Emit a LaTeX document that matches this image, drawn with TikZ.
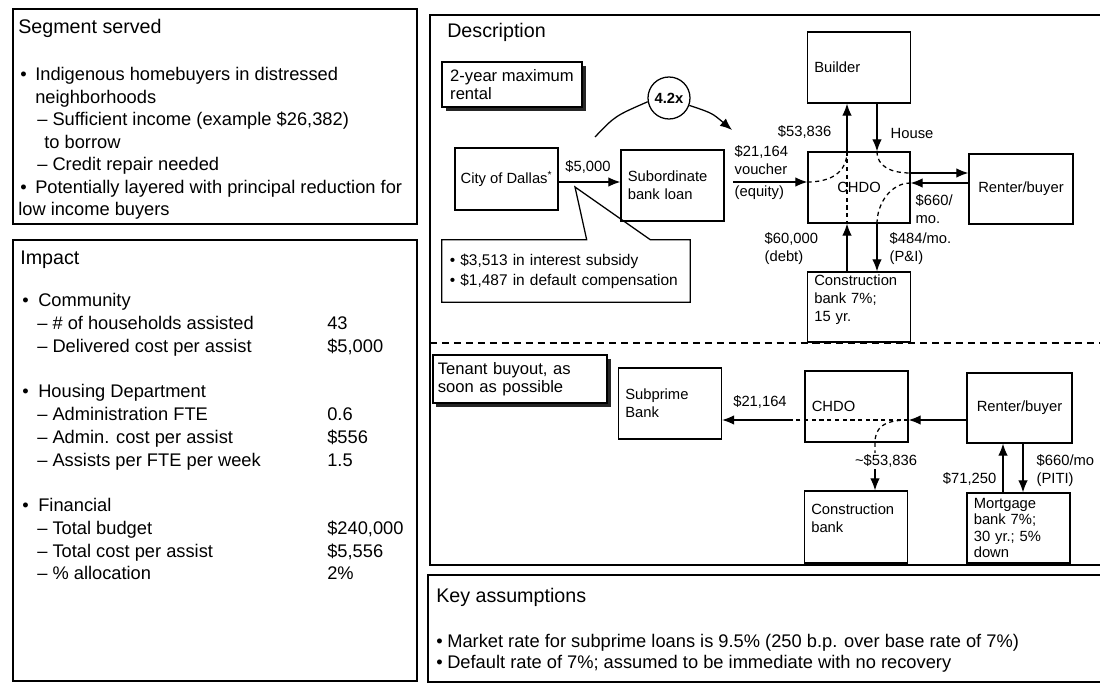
\documentclass[tikz,border=0pt]{standalone}
\usepackage{fontspec}
\setmainfont{Liberation Sans}
\usetikzlibrary{
    arrows.meta,
    positioning,
    shadows
}
\newcommand{\diafont}{\fontsize{10.5}{12.8}\selectfont}
\newcommand{\bodyfont}{\fontsize{13}{16}\selectfont}
\newcommand{\ttlfont}{\fontsize{14}{17}\selectfont}
\newcommand{\tagfont}{\fontsize{11.8}{13}\selectfont}
\newcommand{\notefont}{\fontsize{11}{14.2}\selectfont}
\tikzset{
  frame/.style = {draw, line width=1pt},
  box/.style   = {draw, line width=0.9pt, align=center, inner sep=2pt, font=\diafont},
  lbox/.style  = {draw, line width=0.9pt, align=left, text width=2.235cm,
                  inner xsep=0.17cm, inner ysep=1pt, font=\diafont},
  tag/.style   = {draw, line width=0.9pt, fill=white, align=left, font=\tagfont,
                  drop shadow={shadow xshift=2.5pt, shadow yshift=-2.5pt, fill=black, opacity=0.85}},
  lbl/.style   = {inner sep=1pt, align=left, font=\diafont},
  txt/.style   = {anchor=base west, inner sep=0pt, font=\bodyfont},
  ttl/.style   = {anchor=base west, inner sep=0pt, font=\ttlfont},
  arr/.style   = {-{Latex[length=3mm, width=2.4mm]}, line width=0.9pt},
  dsh/.style   = {line width=0.9pt, dash pattern=on 3pt off 2.5pt}
}

\begin{document}
\begin{tikzpicture}[x=0.025cm, y=-0.025cm]
\useasboundingbox (0,0) rectangle (1100,688);

% panels
\draw[frame] (13,9) rectangle (417,224);
\draw[frame] (13,240) rectangle (417,681);
\draw[frame] (1100,15) -| (430,565) -- (1100,565);
\draw[line width=0.9pt, dash pattern=on 5pt off 3.5pt] (430,343) -- (1100,343);
\draw[frame] (1100,575) -| (428,682) -- (1100,682);

% segment served
\node[ttl] (segttl) at (18,34) {Segment served};
\foreach \t/\x/\y [count=\i] in {{\textbullet}/20/81, {Indigenous homebuyers in distressed}/35/81,
    neighborhoods/35/103.5, {-- Sufficient income (example \$26,382)}/37/126, {to borrow}/44/148.5,
    {-- Credit repair needed}/37/171, {\textbullet}/20/193.5,
    {Potentially layered with principal reduction for}/35/193.5, {low income buyers}/18/216}
  \node[txt] (seg\i) at (\x,\y) {\t};

% impact
\node[ttl] (impttl) at (20,265) {Impact};
\foreach \t/\y [count=\i] in {Community/307, {Housing Department}/398, Financial/512}{
  \node[txt] (dot\i) at (22,\y) {\textbullet};
  \node[txt] (grp\i) at (38,\y) {\t};
}
\foreach \t/\v/\y [count=\i] in {{\# of households assisted}/43/330, {Delivered cost per assist}/{\$5,000}/353,
    {Administration FTE}/0.6/421, {Admin. cost per assist}/{\$556}/444, {Assists per FTE per week}/1.5/467,
    {Total budget}/{\$240,000}/535, {Total cost per assist}/{\$5,556}/558, {\% allocation}/{2\%}/580}{
  \node[txt] (row\i) at (37,\y) {-- \t};
  \node[txt] (val\i) at (327,\y) {\v};
}

% key assumptions
\node[ttl] (keyttl) at (436,603) {Key assumptions};
\node[txt] (kdot1) at (436,648) {\textbullet};
\node[txt] (key1) at (447,648) {Market rate for subprime loans is 9.5\% (250 b.p. over base rate of 7\%)};
\node[txt] (kdot2) at (436,668) {\textbullet};
\node[txt] (key2) at (447,668) {Default rate of 7\%; assumed to be immediate with no recovery};

% description, rental phase
\node[ttl] (descttl) at (447,38) {Description};
\node[tag, minimum width=3.5cm, minimum height=1.125cm] (tag1) at (512,84.5) {2-year maximum\\rental};
\node[box, minimum width=2.575cm, minimum height=1.55cm] (city) at (506.5,179) {City of Dallas\textsuperscript{*}};
\node[lbox, minimum height=1.775cm] (sub) at (672.5,185.5) {Subordinate\\bank loan};
\node[lbox, minimum height=1.775cm] (builder) at (859,67.5) {Builder};
\node[box, minimum width=2.55cm, minimum height=1.775cm] (chdo) at (859,187.5) {CHDO};
\node[box, minimum width=2.6cm, minimum height=1.75cm] (renter) at (1021,189) {Renter/buyer};
\node[lbox, minimum height=1.75cm] (cbank) at (859,307) {Construction\\bank 7\%;\\15 yr.\\\mbox{}};
\node[circle, draw, line width=0.9pt, minimum size=1.05cm, inner sep=0pt, font=\diafont\bfseries] (mult) at (669,98) {4.2x};
\node[lbl, text width=5.8cm, minimum height=1.55cm, inner xsep=0.2cm, font=\notefont] (note) at (566,271)
  {\textbullet\hspace{3.5pt}\$3,513 in interest subsidy\\\textbullet\hspace{3.5pt}\$1,487 in default compensation};

\coordinate (tip) at (575,187);
\coordinate (c0) at (595,137);
\coordinate (c1) at (732,130);
\coordinate (vst) at (733,182);
\coordinate (ca) at (0,182);
\coordinate (ra) at (0,173);
\coordinate (rb) at (0,183);
\coordinate (cu) at (847,0);
\coordinate (cd) at (877,0);

\draw[line width=0.9pt] (note.north west) -- ++(145,0) -- (tip) -- ([xshift=-1cm]note.north east)
  -- (note.north east) -- (note.south east) -- (note.south west) -- cycle;
\draw[line width=0.9pt] (c0) .. controls (615,116) .. (mult.190);
\draw[arr] (mult.-20) .. controls (712,113) .. (c1);

\draw[arr] (city.east |- ca) -- (sub.west |- ca);
\draw[arr] (vst) -- (vst -| chdo.west);
\draw[arr] (chdo.north -| cu) -- (builder.south -| cu);
\draw[arr] (builder.south -| cd) -- (chdo.north -| cd);
\draw[arr] (chdo.east |- ra) -- (renter.west |- ra);
\draw[arr] (renter.west |- rb) -- (chdo.east |- rb);
\draw[arr] (cbank.north -| cu) -- (chdo.south -| cu);
\draw[arr] (chdo.south -| cd) -- (cbank.north -| cd);
\draw[dsh] (vst -| chdo.west) .. controls +(25,0) and +(0,20) .. (chdo.north -| cu);
\draw[dsh] (chdo.north -| cu) -- (chdo.south -| cu);
\draw[dsh] (chdo.north -| cd) .. controls +(0,15) and +(-20,0) .. (chdo.east |- ra);
\draw[dsh] (chdo.east |- rb) .. controls +(-20,0) and +(0,-20) .. (chdo.south -| cd);

\node[lbl] (l5000) at (588,167) {\$5,000};
\node[lbl, anchor=west] (lvouch) at (733,160.5) {\$21,164\\voucher};
\node[lbl, anchor=west] (lequity) at (733,193) {(equity)};
\node[lbl, anchor=east] (l538) at (833,132) {\$53,836};
\node[lbl, anchor=west] (lhouse) at (889,133) {House};
\node[lbl, anchor=west] (l660) at (914,209) {\$660/\\mo.};
\node[lbl, anchor=west] (l600) at (763,248.5) {\$60,000\\(debt)};
\node[lbl, anchor=west] (l484) at (888,248.5) {\$484/mo.\\(P\&I)};

% description, buyout phase
\node[tag, text width=4.11cm, inner xsep=0.12cm, minimum height=1.2cm] (tag2) at (520,379) {Tenant buyout, as\\soon as possible};
\node[lbox, minimum height=1.775cm] (sprime) at (670,403.5) {Subprime\\Bank};
\node[lbox, minimum height=1.775cm] (chdob) at (856.5,406.5) {CHDO};
\node[box, minimum width=2.625cm, minimum height=1.75cm] (renterb) at (1019.5,408) {Renter/buyer};
\node[lbox, minimum height=1.8cm] (cbankb) at (856,527) {Construction\\bank\\\mbox{}};
\node[lbox, minimum height=1.75cm, font=\fontsize{10.5}{11.8}\selectfont] (mbank) at (1018.5,528) {Mortgage\\bank 7\%;\\30 yr.; 5\%\\down};

\node[lbl] (l211) at (760,402) {\$21,164};
\node[lbl] (l538b) at (886,461) {\textasciitilde\$53,836};
\node[lbl, anchor=east] (l712) at (998,479) {\$71,250};
\node[lbl, anchor=west] (l660b) at (1035,470.5) {\$660/mo\\(PITI)};

\coordinate (rl) at (0,420);
\coordinate (sx) at (790,0);
\coordinate (cbx) at (875,0);
\coordinate (mu) at (1003,0);
\coordinate (md) at (1023,0);

\draw[arr] (renterb.west |- rl) -- (chdob.east |- rl);
\draw[dsh] (chdob.east |- rl) -- (sx |- rl);
\draw[arr] (sx |- rl) -- (sprime.east |- rl);
\draw[dsh] (chdob.east |- rl) .. controls +(-25,0) and +(0,-15) .. (chdob.south -| cbx) -- (l538b.north -| cbx);
\draw[arr] (l538b.south -| cbx) -- (cbankb.north -| cbx);
\draw[arr] (mbank.north -| mu) -- (renterb.south -| mu);
\draw[arr] (renterb.south -| md) -- (mbank.north -| md);
\end{tikzpicture}
\end{document}
